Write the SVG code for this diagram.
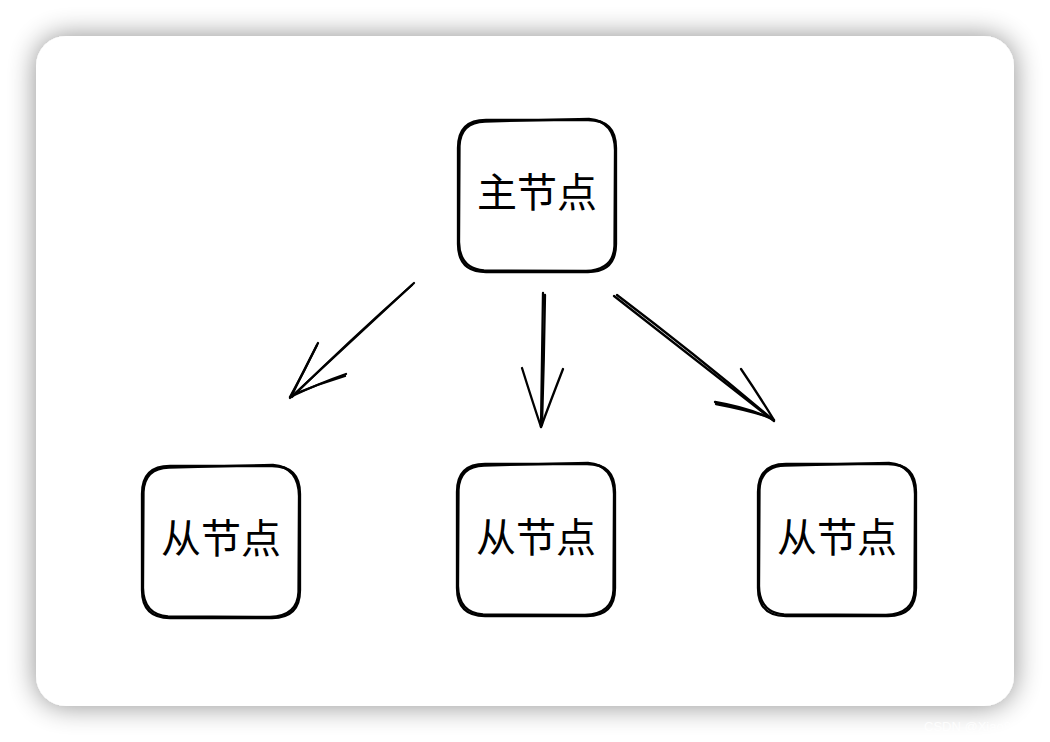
<svg xmlns="http://www.w3.org/2000/svg" xmlns:xlink="http://www.w3.org/1999/xlink" width="1050" height="742" viewBox="0 0 1050 742">
  <style>
    .sk { fill: none; stroke: #000; stroke-width: 2.3; stroke-linecap: round; stroke-linejoin: round; }
    .lbl { font-family: "Noto Sans CJK SC", "Noto Sans", sans-serif; font-size: 40px; fill: #000; text-anchor: middle; }
  </style>
  <defs>
    <filter id="shadow" x="-10%" y="-10%" width="120%" height="120%">
      <feGaussianBlur in="SourceAlpha" stdDeviation="14"/>
      <feComponentTransfer><feFuncA type="linear" slope="0.45"/></feComponentTransfer>
      <feMerge><feMergeNode/><feMergeNode in="SourceGraphic"/></feMerge>
    </filter>
    <g id="box">
      <path class="sk" d="M28 0 L130 0 Q158 0 158 28 L158 124 Q158 152 130 152 L28 152 Q0 152 0 124 L0 28 Q0 0 28 0 Z"/>
      <path class="sk" d="M27 1.5 L131 -1 Q156.5 1 157 30 L156.5 126 Q155.5 150 128 151 L26 150.5 Q1.5 148.5 1 122 L1.5 26 Q2.5 2 27 1.5"/>
    </g>
  </defs>
  <rect width="1050" height="742" fill="#ffffff"/>
  <rect x="36" y="36" width="978" height="670" rx="30" fill="#ffffff" filter="url(#shadow)"/>
  <text x="924" y="731" font-family="Liberation Sans, sans-serif" font-size="13" fill="#ffffff" fill-opacity="0.85">CSDN @Xiao88</text>

  <g id="connectors">
    <path class="sk" d="M414 283 L290 398"/>
    <path class="sk" d="M412 285 Q350 340 292 397"/>
    <path class="sk" d="M318 343 Q305 370 290 397"/>
    <path class="sk" d="M317 345 Q303 372 292 395"/>
    <path class="sk" d="M346 374 Q320 383 290 397"/>
    <path class="sk" d="M345 376 Q318 384 292 395"/>

    <path class="sk" d="M543 293 L541 427"/>
    <path class="sk" d="M545 295 Q544 360 542 425"/>
    <path class="sk" d="M522 368 Q532 400 541 427"/>
    <path class="sk" d="M563 369 Q551 400 541 427"/>

    <path class="sk" d="M614 296 L774 421"/>
    <path class="sk" d="M617 295 Q700 358 772 419"/>
    <path class="sk" d="M741 369 Q758 394 774 420"/>
    <path class="sk" d="M715 402 Q750 408 774 420"/>
    <path class="sk" d="M716 404 Q748 410 772 418"/>
  </g>

  <g id="master">
    <use xlink:href="#box" x="458" y="120"/>
    <text class="lbl" x="537" y="207">主节点</text>
  </g>
  <g id="slave-left">
    <use xlink:href="#box" x="142" y="466"/>
    <text class="lbl" x="221" y="553">从节点</text>
  </g>
  <g id="slave-middle">
    <use xlink:href="#box" x="457" y="464"/>
    <text class="lbl" x="536" y="552">从节点</text>
  </g>
  <g id="slave-right">
    <use xlink:href="#box" x="758" y="464"/>
    <text class="lbl" x="837" y="552">从节点</text>
  </g>
</svg>
